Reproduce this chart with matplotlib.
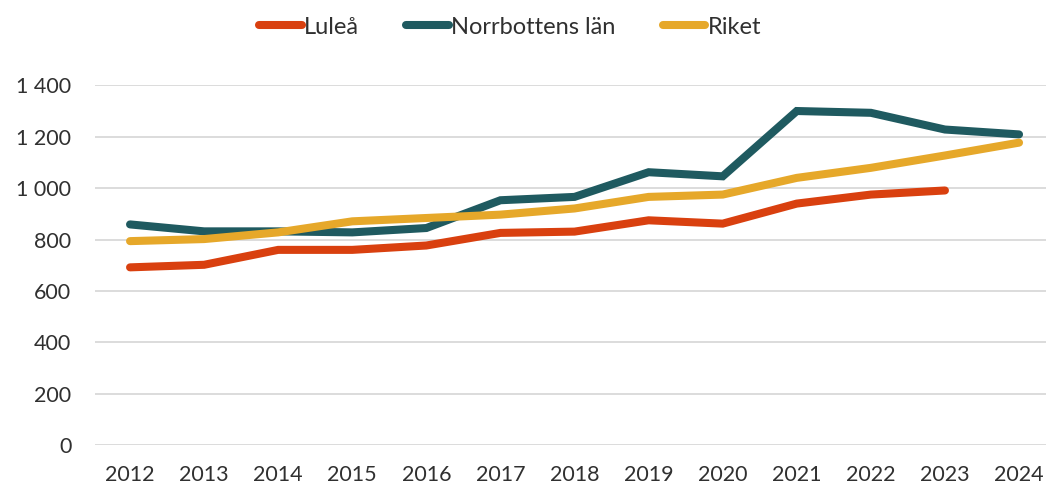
import matplotlib
matplotlib.use("Agg")
import matplotlib.pyplot as plt
from matplotlib.ticker import FuncFormatter

years = [2012, 2013, 2014, 2015, 2016, 2017, 2018, 2019, 2020, 2021, 2022, 2023, 2024]
lulea = [692, 702, 760, 760, 777, 826, 831, 875, 862, 940, 975, 991]
norrbotten = [859, 832, 832, 828, 845, 953, 966, 1062, 1046, 1300, 1293, 1228, 1209]
riket = [794, 802, 828, 871, 884, 897, 921, 966, 975, 1040, 1079, 1127, 1177]
y_ticks = [0, 200, 400, 600, 800, 1000, 1200, 1400]

plt.rcParams['font.family'] = ['Lato', 'DejaVu Sans']
plt.rcParams['font.weight'] = 'normal'
txt = '#303030'

fig = plt.figure(figsize=(10.46, 4.86), dpi=100)
ax = fig.add_axes([95/1046, (486-445.3)/486, 1-95/1046, (445.3-85.3)/486])

lw = 5.8
ax.plot(years[:len(lulea)], lulea, color='#D9400F', lw=lw, solid_capstyle='round', solid_joinstyle='miter', label='Luleå', zorder=3)
ax.plot(years, norrbotten, color='#1F5A60', lw=lw, solid_capstyle='round', solid_joinstyle='miter', label='Norrbottens län', zorder=3)
ax.plot(years, riket, color='#E6A82A', lw=lw, solid_capstyle='round', solid_joinstyle='miter', label='Riket', zorder=3)

ax.set_xlim(2011.527, 2024.364)
ax.set_ylim(0, 1400)
ax.set_yticks(y_ticks)
ax.yaxis.set_major_formatter(FuncFormatter(lambda v, p: f"{int(v):,}".replace(",", " ")))
ax.set_xticks(years)
ax.set_xticklabels([str(y) for y in years])
ax.grid(axis='y', color='#D9D9D9', lw=1.3)
ax.set_axisbelow(True)
for s in ax.spines.values():
    s.set_visible(False)
ax.tick_params(axis='both', length=0, labelsize=15.5, labelcolor=txt)
ax.tick_params(axis='y', pad=17)
ax.tick_params(axis='x', pad=14)

leg = fig.legend(loc='center', bbox_to_anchor=(510/1046, 1-27/486), ncol=3, frameon=False,
                 fontsize=17, handlelength=1.8, handletextpad=0.1, columnspacing=2.0)
for t in leg.get_texts():
    t.set_color(txt)

fig.savefig('out.png', dpi=100)
